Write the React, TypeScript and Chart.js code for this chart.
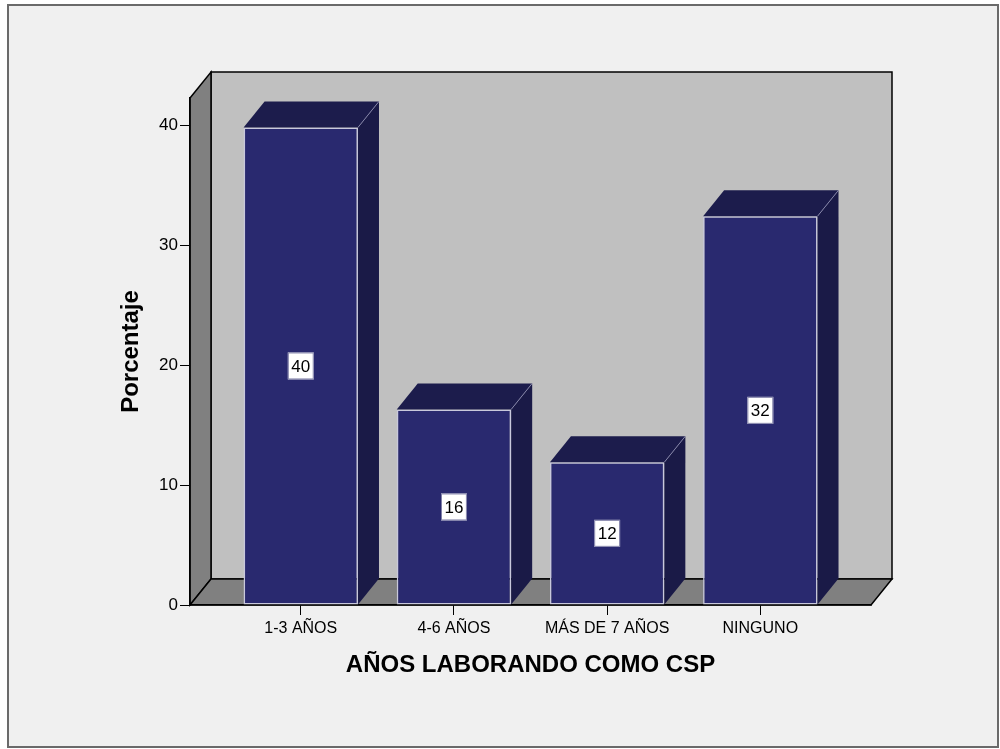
import React, { useEffect, useRef } from "react";
import { Chart, registerables } from "chart.js";

Chart.register(...registerables);

// ---- data ----
const CATEGORIES = ["1-3 AÑOS", "4-6 AÑOS", "MÁS DE 7 AÑOS", "NINGUNO"];
const PERCENTAGES = [39.8, 16.3, 11.9, 32.4];
const BAR_LABELS = ["40", "16", "12", "32"];
const Y_TICKS = [0, 10, 20, 30, 40];
const X_TITLE = "AÑOS LABORANDO COMO CSP";
const Y_TITLE = "Porcentaje";

// ---- style ----
const FONT = "Arial, 'Liberation Sans', sans-serif";
const DX = 21;
const DY = -26;
const BAR_FRONT = "#29296f";
const BAR_TOP = "#1c1c4c";
const BAR_SIDE = "#1a1a47";

const wallsPlugin = {
  id: "walls3d",
  beforeDraw(chart: any) {
    const { ctx, chartArea } = chart;
    const { left, right, top, bottom } = chartArea;
    ctx.save();
    ctx.lineWidth = 1.5;
    ctx.strokeStyle = "#000";
    ctx.lineJoin = "miter";
    const poly = (pts: number[][], fill: string) => {
      ctx.beginPath();
      pts.forEach(([x, y], i) => (i ? ctx.lineTo(x, y) : ctx.moveTo(x, y)));
      ctx.closePath();
      ctx.fillStyle = fill;
      ctx.fill();
      ctx.stroke();
    };
    // back wall
    poly(
      [
        [left + DX, top + DY],
        [right + DX, top + DY],
        [right + DX, bottom + DY],
        [left + DX, bottom + DY],
      ],
      "#c0c0c0"
    );
    // left wall
    poly(
      [
        [left, top],
        [left + DX, top + DY],
        [left + DX, bottom + DY],
        [left, bottom],
      ],
      "#808080"
    );
    // floor
    poly(
      [
        [left, bottom],
        [left + DX, bottom + DY],
        [right + DX, bottom + DY],
        [right, bottom],
      ],
      "#808080"
    );
    ctx.restore();
  },
};

const barsPlugin = {
  id: "bars3d",
  afterDatasetsDraw(chart: any) {
    const { ctx } = chart;
    const meta = chart.getDatasetMeta(0);
    ctx.save();
    meta.data.forEach((bar: any, i: number) => {
      const { x, y, base, width } = bar.getProps(["x", "y", "base", "width"], true);
      const l = x - width / 2;
      const r = x + width / 2;
      ctx.lineWidth = 1;
      ctx.strokeStyle = "rgba(150,150,185,0.8)";
      // top face
      ctx.beginPath();
      ctx.moveTo(l, y);
      ctx.lineTo(l + DX, y + DY);
      ctx.lineTo(r + DX, y + DY);
      ctx.lineTo(r, y);
      ctx.closePath();
      ctx.fillStyle = BAR_TOP;
      ctx.fill();
      // side face
      ctx.beginPath();
      ctx.moveTo(r, y);
      ctx.lineTo(r + DX, y + DY);
      ctx.lineTo(r + DX, base + DY);
      ctx.lineTo(r, base);
      ctx.closePath();
      ctx.fillStyle = BAR_SIDE;
      ctx.fill();
      // light edge
      ctx.beginPath();
      ctx.moveTo(r, y);
      ctx.lineTo(r + DX, y + DY);
      ctx.stroke();

      // value label
      const text = BAR_LABELS[i];
      ctx.font = `17px ${FONT}`;
      const tw = ctx.measureText(text).width;
      const bw = tw + 7;
      const bh = 27;
      const cy = (y + base) / 2;
      ctx.fillStyle = "#fff";
      ctx.fillRect(x - bw / 2, cy - bh / 2, bw, bh);
      ctx.strokeStyle = "#8080a8";
      ctx.strokeRect(x - bw / 2 + 0.5, cy - bh / 2 + 0.5, bw - 1, bh - 1);
      ctx.fillStyle = "#000";
      ctx.textAlign = "center";
      ctx.textBaseline = "middle";
      ctx.fillText(text, x, cy + 1);
    });
    ctx.restore();
  },
};

export default function App() {
  const canvasRef = useRef<HTMLCanvasElement | null>(null);

  useEffect(() => {
    const canvas = canvasRef.current;
    if (!canvas) return;
    const chart = new Chart(canvas, {
      type: "bar",
      data: {
        datasets: [
          {
            data: PERCENTAGES.map((v, i) => ({ x: i, y: v })),
            backgroundColor: BAR_FRONT,
            borderColor: "#c8c8dc",
            borderWidth: 1.5,
            borderSkipped: false,
            barPercentage: 0.747,
            categoryPercentage: 1,
          } as any,
        ],
      },
      options: {
        animation: false,
        responsive: false,
        devicePixelRatio: 1,
        layout: { padding: { left: 110, right: 129, top: 98, bottom: 69 } },
        plugins: {
          legend: { display: false },
          tooltip: { enabled: false },
        },
        scales: {
          x: {
            type: "linear",
            offset: false,
            min: -0.7232,
            max: 3.7226,
            afterBuildTicks: (s: any) => {
              s.ticks = CATEGORIES.map((_, i) => ({ value: i }));
            },
            afterFit: (s: any) => {
              s.height = 75;
            },
            ticks: {
              callback: (v: any) => CATEGORIES[v],
              font: { family: FONT, size: 16 },
              color: "#000",
              padding: 4,
              maxRotation: 0,
              autoSkip: false,
            },
            grid: {
              offset: false,
              drawOnChartArea: false,
              drawTicks: true,
              tickLength: 10,
              tickColor: "#000",
            },
            border: { display: true, color: "#000", width: 1.5 },
            title: {
              display: true,
              text: X_TITLE,
              font: { family: FONT, size: 24, weight: "bold" },
              color: "#000",
              padding: { top: 0, bottom: 0 },
            },
          },
          y: {
            type: "linear",
            min: 0,
            max: 42.25,
            afterBuildTicks: (s: any) => {
              s.ticks = Y_TICKS.map((v) => ({ value: v }));
            },
            afterFit: (s: any) => {
              s.width = 80;
            },
            ticks: {
              font: { family: FONT, size: 17 },
              color: "#000",
              padding: 2,
            },
            grid: {
              drawOnChartArea: false,
              drawTicks: true,
              tickLength: 10,
              tickColor: "#000",
            },
            border: { display: true, color: "#000", width: 1.5 },
            title: {
              display: true,
              text: Y_TITLE,
              font: { family: FONT, size: 24, weight: "bold" },
              color: "#000",
              padding: { top: 7, bottom: 0 },
            },
          },
        },
      } as any,
      plugins: [wallsPlugin, barsPlugin],
    });
    return () => chart.destroy();
  }, []);

  return (
    <div
      style={{
        position: "fixed",
        left: 0,
        top: 0,
        width: 1000,
        height: 749,
        background: "#ffffff",
        overflow: "hidden",
      }}
    >
      <div
        style={{
          position: "absolute",
          left: 7,
          top: 4,
          width: 992,
          height: 744,
          boxSizing: "border-box",
          border: "2px solid #6a6a6a",
          background: "#f0f0f0",
        }}
      />
      <canvas
        ref={canvasRef}
        width={1000}
        height={749}
        style={{ position: "absolute", left: 0, top: 0, display: "block" }}
      />
    </div>
  );
}
